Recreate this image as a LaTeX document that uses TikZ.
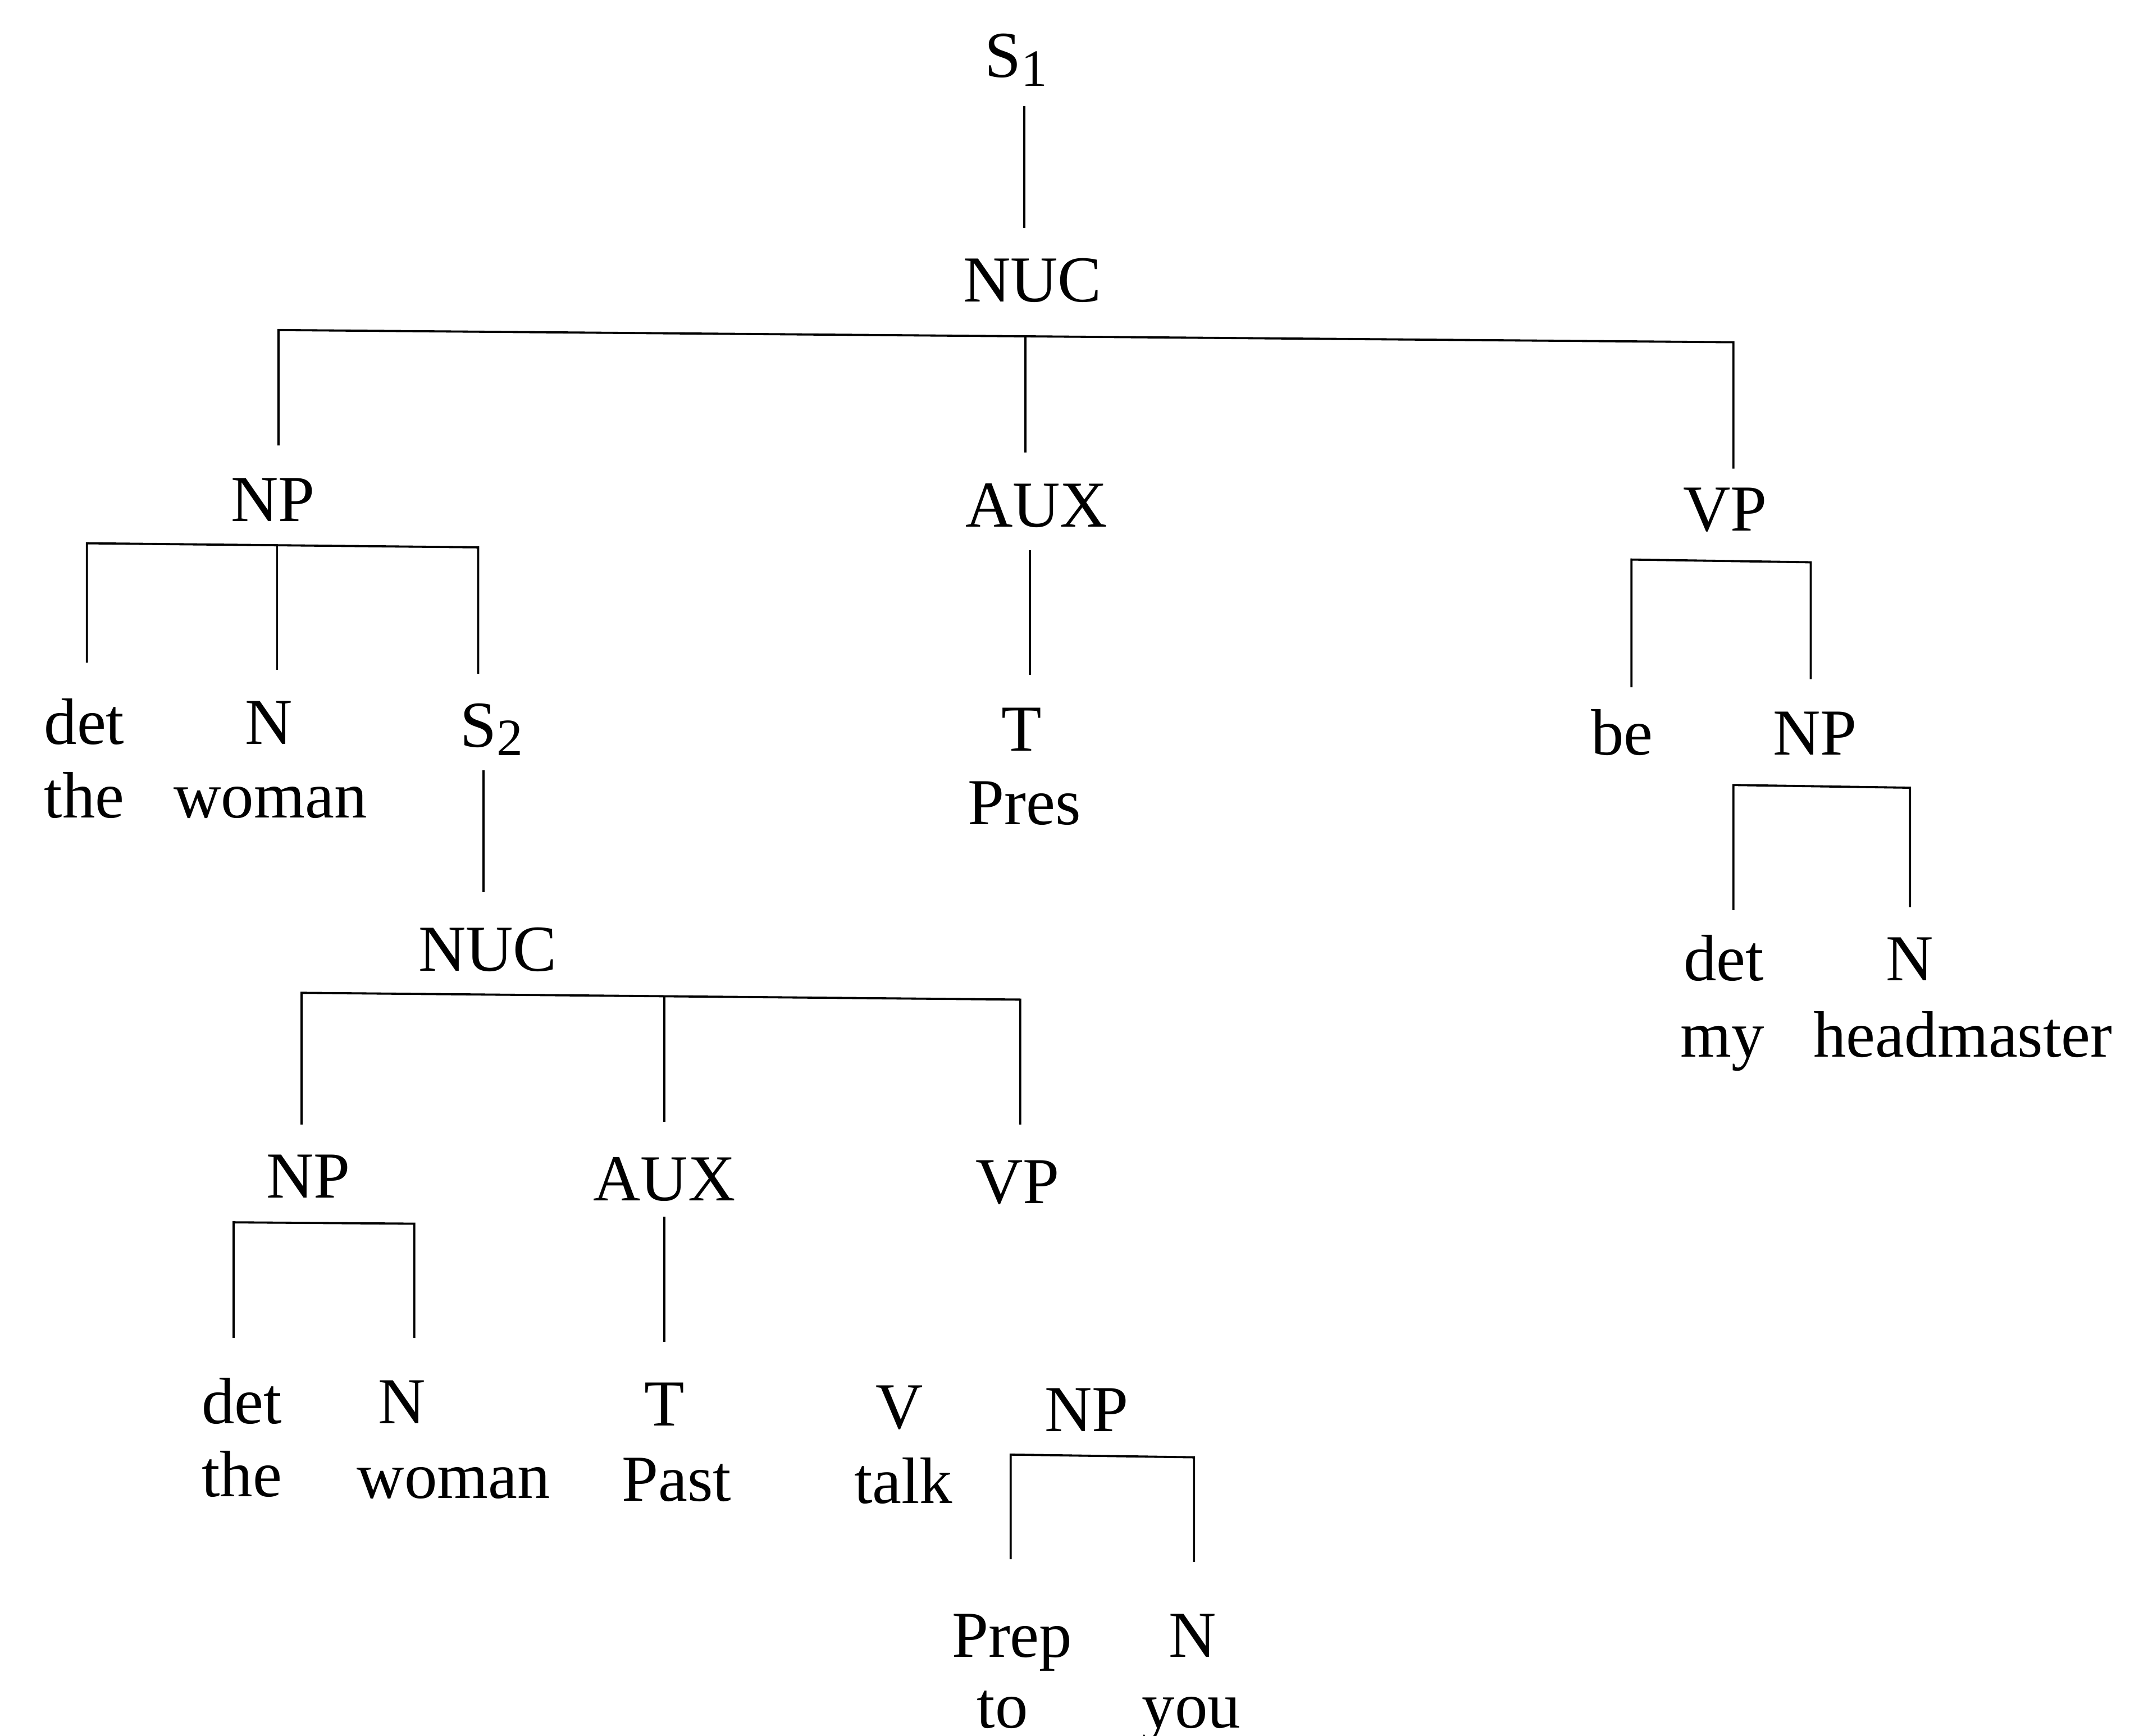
\documentclass[tikz,border=0pt]{standalone}
\usepackage{fontspec}
\setmainfont{Liberation Serif}
\newcommand\subnum[1]{\raisebox{-0.13em}{\fontsize{22}{22}\selectfont #1}}
\begin{document}
\begin{tikzpicture}[x=0.02cm,y=-0.02cm,
  lab/.style={anchor=base,inner sep=0pt,font=\fontsize{27.5}{33}\selectfont},
  br/.style={line width=0.9pt}]
\useasboundingbox (0,0) rectangle (1568,1278);
% level 0/1
\node[lab] (s1) at (748,57) {S\subnum{1}};
\node[lab] (nuc1) at (760,222) {NUC};
% level 2
\node[lab] (np1) at (201,384) {NP};
\node[lab] (aux1) at (763,388) {AUX};
\node[lab] (vp1) at (1270,391) {VP};
% under NP1
\node[lab] (det1) at (62,548) {det};
\node[lab] (n1) at (198,548) {N};
\node[lab] (s2) at (362,550) {S\subnum{2}};
\node[lab] (the1) at (62,602) {the};
\node[lab] (woman1) at (199,602) {woman};
% under AUX1
\node[lab] (t1) at (752,553) {T};
\node[lab] (pres) at (754,607) {Pres};
% under VP1
\node[lab] (be) at (1194,556) {be};
\node[lab] (np2) at (1336,556) {NP};
\node[lab] (det2) at (1269,722) {det};
\node[lab] (n2) at (1406,722) {N};
\node[lab] (my) at (1268,778) {my};
\node[lab] (headmaster) at (1445,778) {headmaster};
% embedded clause
\node[lab] (nuc2) at (359,715) {NUC};
\node[lab] (np3) at (227,882) {NP};
\node[lab] (aux2) at (489,884) {AUX};
\node[lab] (vp2) at (749,886) {VP};
\node[lab] (det3) at (178,1048) {det};
\node[lab] (n3) at (296,1048) {N};
\node[lab] (t2) at (489,1050) {T};
\node[lab] (v) at (662,1052) {V};
\node[lab] (np4) at (800,1054) {NP};
\node[lab] (the2) at (178,1102) {the};
\node[lab] (woman2) at (334,1103) {woman};
\node[lab] (past) at (498,1105) {Past};
\node[lab] (talk) at (665,1107) {talk};
\node[lab] (prep) at (745,1220) {Prep};
\node[lab] (n4) at (878,1220) {N};
\node[lab] (to) at (738,1272) {to};
\node[lab] (you) at (877,1272) {you};
% coordinates for branches
\coordinate (a1) at (754,78);   \coordinate (a2) at (754,168);
\coordinate (b1) at (205,243);  \coordinate (b2) at (755,248);  \coordinate (b3) at (1276,252);
\coordinate (b1d) at (205,328); \coordinate (b2d) at (755,333); \coordinate (b3d) at (1276,345);
\coordinate (c1) at (64,400);   \coordinate (c2) at (204,401);  \coordinate (c3) at (352,403);
\coordinate (c1d) at (64,488);  \coordinate (c2d) at (204,493); \coordinate (c3d) at (352,496);
\coordinate (d1) at (758,405);  \coordinate (d2) at (758,497);
\coordinate (e1) at (1201,412); \coordinate (e2) at (1333,414);
\coordinate (e1d) at (1201,506);\coordinate (e2d) at (1333,500);
\coordinate (f1) at (1276,578); \coordinate (f2) at (1406,580);
\coordinate (f1d) at (1276,670);\coordinate (f2d) at (1406,668);
\coordinate (g1) at (356,567);  \coordinate (g2) at (356,657);
\coordinate (h1) at (222,731);  \coordinate (h2) at (489,733);  \coordinate (h3) at (751,736);
\coordinate (h1d) at (222,828); \coordinate (h2d) at (489,826); \coordinate (h3d) at (751,828);
\coordinate (i1) at (172,900);  \coordinate (i2) at (305,901);
\coordinate (i1d) at (172,985); \coordinate (i2d) at (305,985);
\coordinate (j1) at (489,896);  \coordinate (j2) at (489,988);
\coordinate (k1) at (744,1071); \coordinate (k2) at (879,1073);
\coordinate (k1d) at (744,1148);\coordinate (k2d) at (879,1150);
% branches
\draw[br] (a1) -- (a2);
\draw[br] (b1d) -- (b1) -- (b3) -- (b3d);
\draw[br] (b2) -- (b2d);
\draw[br] (c1d) -- (c1) -- (c3) -- (c3d);
\draw[br] (c2) -- (c2d);
\draw[br] (d1) -- (d2);
\draw[br] (e1d) -- (e1) -- (e2) -- (e2d);
\draw[br] (f1d) -- (f1) -- (f2) -- (f2d);
\draw[br] (g1) -- (g2);
\draw[br] (h1d) -- (h1) -- (h3) -- (h3d);
\draw[br] (h2) -- (h2d);
\draw[br] (i1d) -- (i1) -- (i2) -- (i2d);
\draw[br] (j1) -- (j2);
\draw[br] (k1d) -- (k1) -- (k2) -- (k2d);
\end{tikzpicture}
\end{document}
